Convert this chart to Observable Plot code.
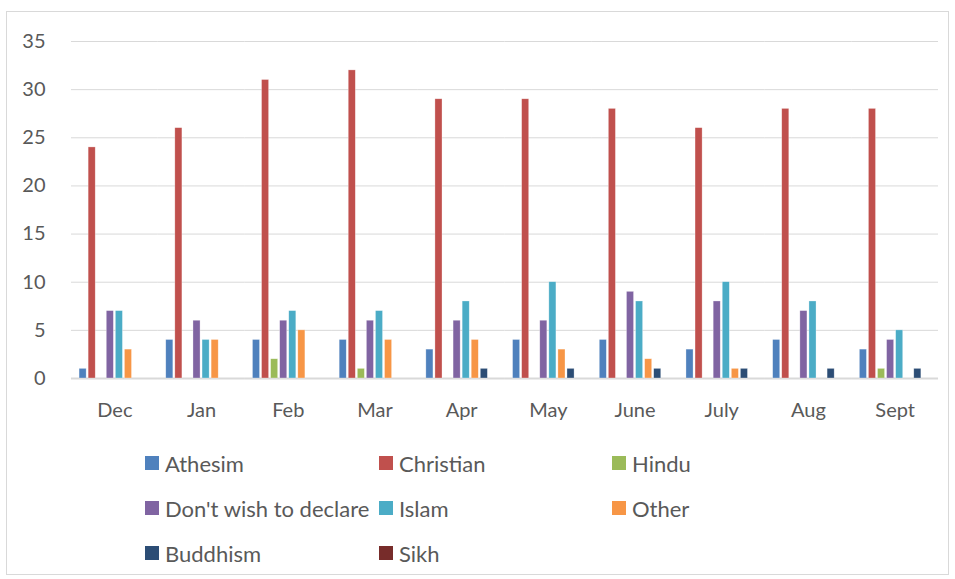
<!DOCTYPE html>
<html>
<head>
<meta charset="utf-8">
<script src="https://cdn.jsdelivr.net/npm/d3@7"></script>
<script src="https://cdn.jsdelivr.net/npm/@observablehq/plot@0.6"></script>
<style>
  body { margin: 0; background: #fff; font-family: Lato, "Open Sans", sans-serif; }
  #wrap { position: relative; width: 955px; height: 579px; }
  #border { position: absolute; left: 6px; top: 11px; width: 943px; height: 564px; border: 1px solid #d9d9d9; box-sizing: border-box; }
  #chart { position: absolute; left: 0; top: 0; }
  .leg { position: absolute; display: flex; align-items: center; font-size: 22px; color: #595959; white-space: nowrap; }
  .leg span.sw { display: inline-block; width: 14px; height: 14px; margin-right: 6px; }
</style>
</head>
<body>
<div id="wrap">
  <div id="border"></div>
  <div id="chart"></div>
</div>
<script>
const months = ["Dec", "Jan", "Feb", "Mar", "Apr", "May", "June", "July", "Aug", "Sept"];
const series = ["Athesim", "Christian", "Hindu", "Don't wish to declare", "Islam", "Other", "Buddhism", "Sikh"];
const colors = ["#4f81bd", "#c0504d", "#9bbb59", "#8064a2", "#4bacc6", "#f79646", "#2c4d75", "#772c2a"];
const athesim   = [1, 4, 4, 4, 3, 4, 4, 3, 4, 3];
const christian = [24, 26, 31, 32, 29, 29, 28, 26, 28, 28];
const hindu     = [0, 0, 2, 1, 0, 0, 0, 0, 0, 1];
const dontWish  = [7, 6, 6, 6, 6, 6, 9, 8, 7, 4];
const islam     = [7, 4, 7, 7, 8, 10, 8, 10, 8, 5];
const other     = [3, 4, 5, 4, 4, 3, 2, 1, 0, 0];
const buddhism  = [0, 0, 0, 0, 1, 1, 1, 1, 1, 1];
const sikh      = [0, 0, 0, 0, 0, 0, 0, 0, 0, 0];
const yTicks = [0, 5, 10, 15, 20, 25, 30, 35];

const valuesBySeries = [athesim, christian, hindu, dontWish, islam, other, buddhism, sikh];
const data = [];
months.forEach((m, i) => {
  series.forEach((s, j) => {
    data.push({month: m, series: s, value: valuesBySeries[j][i]});
  });
});

const chart = Plot.plot({
  width: 955,
  height: 430,
  marginLeft: 71,
  marginRight: 17,
  marginTop: 41,
  marginBottom: 52,
  style: {fontFamily: "Lato, 'Open Sans', sans-serif", color: "#595959", background: "transparent"},
  fx: {domain: months, padding: 0.14, paddingInner: 0.14, paddingOuter: 0.07, round: false, label: null, axis: null},
  x: {domain: series, padding: 0.22, round: false, axis: null},
  y: {domain: [0, 35], ticks: yTicks, label: null, axis: null},
  color: {domain: series, range: colors},
  marks: [
    Plot.ruleY(yTicks, {y: d => d, stroke: "#d9d9d9", strokeWidth: 1, insetLeft: -6.1, insetRight: -6.1}),
    Plot.ruleY([0], {stroke: "#d9d9d9", strokeWidth: 2, insetLeft: -6.1, insetRight: -6.1}),
    Plot.barY(data.filter(d => d.value > 0), {fx: "month", x: "series", y: "value", fill: "series", stroke: "#ffffff", strokeOpacity: 0.5, strokeWidth: 0.6}),
    Plot.axisY({ticks: yTicks, tickSize: 0, tickPadding: 32, fontSize: 20, fill: "#595959", label: null, facetAnchor: "left"}),
    Plot.axisFx({anchor: "bottom", tickSize: 0, tickPadding: 24, fontSize: 20, fill: "#595959", label: null})
  ]
});
document.getElementById("chart").appendChild(chart);

// legend
const legPos = [
  [145, 463], [379, 463], [612, 463],
  [145, 508], [379, 508], [612, 508],
  [145, 553], [379, 553]
];
const wrap = document.getElementById("wrap");
series.forEach((s, i) => {
  const d = document.createElement("div");
  d.className = "leg";
  d.style.left = legPos[i][0] + "px";
  d.style.top = (legPos[i][1] - 15) + "px";
  d.style.height = "30px";
  const sw = document.createElement("span");
  sw.className = "sw";
  sw.style.background = colors[i];
  d.appendChild(sw);
  d.appendChild(document.createTextNode(s));
  wrap.appendChild(d);
});
</script>
</body>
</html>
